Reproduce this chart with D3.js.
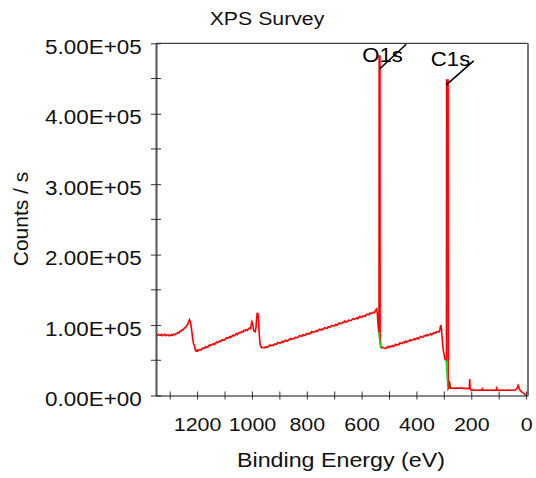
<!DOCTYPE html>
<html>
<head>
<meta charset="utf-8">
<script src="https://cdn.jsdelivr.net/npm/d3@7"></script>
<style>
  html, body { margin: 0; padding: 0; background: #fff; }
  svg { display: block; font-family: "Liberation Sans", Arial, sans-serif; }
</style>
</head>
<body>
<svg id="chart" width="536" height="478"></svg>
<script>
// XPS survey spectrum: binding energy (eV) and intensity (thousand counts / s)
const bindingEnergy = [
  1350,1346,1342,1338,1334,1330,1326,1322,1318,1314,1310,1306,1302,1298,1294,1290,1286,1282,1278,1274,
  1270,1266,1262,1258,1254,1250,1246,1242,1238,1234,1231,1228,1225,1222,1219,1216,1213,1210,1207,1204,1201,
  1197,1193,1189,1185,1181,1177,1173,1169,1165,1161,1157,1153,1149,1145,1141,1137,1133,1129,1125,1121,
  1117,1113,1109,1105,1101,1097,1093,1089,1085,1081,1077,1073,1069,1065,1061,1057,1053,1049,1045,1041,
  1037,1033,1029,1025,1021,1017,1013,1009,1005,1002,1000,997,994,991,988,985,983,981,978,976,974,972,970,967,964,961,
  958,954,950,946,942,938,934,930,926,922,918,914,910,906,902,898,894,890,886,882,878,874,870,866,862,858,854,850,
  846,842,838,834,830,826,822,818,814,810,806,802,798,794,790,786,782,778,774,770,766,762,758,754,750,
  746,742,738,734,730,726,722,718,714,710,706,702,698,694,690,686,682,678,674,670,666,662,658,654,650,
  646,642,638,634,630,626,622,618,614,610,606,602,598,594,590,586,582,578,574,570,566,
  562,558,554,551,548,545,543,541,539,537.5,536.5,536,533,532.5,531,530,527,524,520,
  516,512,508,504,500,496,492,488,484,480,476,472,468,464,460,456,452,448,444,440,436,432,428,424,420,
  416,412,408,404,400,396,392,388,384,380,376,372,368,364,360,356,352,348,344,340,336,332,328,324,320,
  317,315,313,311,309,307,305,303,301,299,297,295,292.5,290.5,290,284.5,284,282.5,281,279.5,278,276.5,
  274,270,266,262,258,254,250,246,242,238,236,230,226,222,218,214,210,207,205.5,204,202,198,190,180,170,
  162,159,157,150,140,130,120,110,107,105,95,85,75,65,55,45,38,34,31,29,27,25,23,20,16,12,8,4,1,-2
];
const countsK = [
  86.4,85.1,86.9,85.6,85.3,86.8,85.0,86.3,87.0,84.9,85.7,86.4,84.6,85.2,86.5,85.4,86.9,86.3,87.5,88.1,
  89.6,88.8,91.4,91.2,93.6,93.5,96.2,96.6,99.5,101.3,104.5,107.5,105.0,99.0,90.0,80.0,73.5,71.0,65.0,63.2,64.5,
  63.3,65.0,65.1,64.6,67.2,67.3,67.0,69.5,68.7,68.7,70.8,72.0,71.1,72.2,73.7,72.4,74.6,75.9,74.8,76.4,
  77.5,76.7,79.2,78.5,78.4,80.6,82.1,81.0,82.2,83.7,82.5,84.3,85.9,84.8,85.9,88.0,86.5,88.4,89.5,89.0,
  90.8,90.1,92.5,91.8,93.6,92.4,94.4,95.9,95.0,101.5,104.8,102.0,93.0,91.0,90.5,97.0,110.0,116.5,116.0,104.0,92.0,80.0,72.0,69.0,67.8,68.4,
  67.8,67.6,69.4,68.8,68.7,70.5,71.7,70.7,71.5,70.9,73.0,73.1,72.9,75.3,74.8,74.2,75.2,76.8,75.5,77.2,78.5,77.5,77.2,79.5,79.5,81.2,79.8,80.9,
  80.9,82.7,82.5,81.8,83.8,85.2,84.2,84.3,86.3,85.9,85.1,87.4,88.3,87.4,88.5,87.9,90.7,90.1,89.7,90.7,92.1,90.8,92.7,94.0,93.0,
  94.4,93.4,95.0,96.4,95.4,95.1,97.5,97.4,97.2,99.5,99.0,98.4,99.6,101.1,99.6,101.6,102.9,101.9,102.0,103.8,103.7,105.6,103.8,105.4,105.2,
  107.1,106.4,106.2,108.2,109.4,108.1,109.2,110.4,108.9,110.9,112.4,111.2,111.3,113.2,113.2,112.6,115.2,115.0,114.6,117.1,116.3,
  116.8,118.2,117.6,119.5,121.5,123.0,118.0,106.0,96.0,91.0,90.0,482.0,482.0,88.0,75.0,68.5,67.8,68.6,67.4,
  67.2,66.6,68.6,68.0,69.9,68.4,69.6,70.8,69.5,71.4,72.6,71.5,72.7,72.1,74.8,74.1,73.8,75.7,75.1,77.0,75.4,77.3,77.3,79.0,77.6,
  79.4,78.9,80.8,79.3,80.9,82.0,80.5,82.6,83.9,82.8,82.9,85.0,84.5,86.2,84.7,86.3,86.3,87.9,86.3,88.3,89.1,88.3,90.5,89.6,90.8,
  90.6,93.0,97.0,100.0,95.0,86.0,76.0,68.0,62.0,58.0,53.0,51.0,50.5,50.0,448.0,448.0,10.0,11.0,17.0,19.0,18.0,11.0,
  10.2,10.6,10.0,10.4,10.1,10.8,10.2,10.5,10.0,11.0,10.3,10.1,10.4,10.0,10.2,9.8,10.0,10.2,23.4,10.0,8.0,7.6,7.8,7.5,7.7,
  7.6,9.5,7.6,7.5,7.7,7.5,7.6,7.5,10.5,7.6,7.5,7.7,7.5,7.6,7.5,7.6,8.0,10.0,12.0,14.5,13.0,9.0,8.0,6.5,5.2,4.0,3.0,1.5,0.2,0.0
];

// Background regions fitted under the two main peaks
const o1sRegionE = [537.5, 530.5];
const o1sRegionK = [89.5, 68.0];
const c1sRegionE = [291.5, 285.5];
const c1sRegionK = [51.0, 12.0];

// Peak labels
const peakNames = ["O1s", "C1s"];
const peakEnergy = [534.5, 287.2];
const peakCountsK = [482.0, 448.0];

// Axis ticks
const yTickValues = [0, 100000, 200000, 300000, 400000, 500000];
const yMinorTicks = [50000, 150000, 250000, 350000, 450000];
const xTickLabels = [1200, 1000, 800, 600, 400, 200, 0];
const xTickAll = [1300, 1200, 1100, 1000, 900, 800, 700, 600, 500, 400, 300, 200, 100, 0];

const svg = d3.select("#chart");
const plotLeft = 156, plotRight = 528, plotTop = 43.3, plotBottom = 395.5;

const x = d3.scaleLinear().domain([1350, -7]).range([plotLeft, plotRight]);
const y = d3.scaleLinear().domain([0, 500000]).range([plotBottom, plotTop]);

const spectrum = bindingEnergy.map((e, i) => [e, countsK[i] * 1000]);

// Horizontally widen a text element about its anchor point
function widen(sel, sx) {
  sel.each(function () {
    const t = d3.select(this);
    const tx = +t.attr("x") || 0, ty = +t.attr("y") || 0;
    t.attr("x", 0).attr("y", 0)
     .attr("transform", `translate(${tx},${ty}) scale(${sx},1)`);
  });
}

function sci(d) {
  const s = d3.format(".2e")(d).replace("e", "E");
  return s.replace(/E([+-])(\d)$/, (m, sign, dig) => "E" + sign + "0" + dig);
}

// Title
svg.append("text")
  .attr("x", 267).attr("y", 25)
  .attr("text-anchor", "middle")
  .attr("font-size", 18.5)
  .attr("fill", "#111")
  .text("XPS Survey")
  .call(widen, 1.15);

// Spectrum line
const line = d3.line().x(d => x(d[0])).y(d => y(d[1]));
svg.append("path")
  .datum(spectrum)
  .attr("fill", "none")
  .attr("stroke", "#ff0000")
  .attr("stroke-width", 1.6)
  .attr("stroke-linejoin", "miter")
  .attr("d", line);

// Background regions
[[o1sRegionE, o1sRegionK], [c1sRegionE, c1sRegionK]].forEach(([es, ks]) => {
  svg.append("path")
    .datum(es.map((e, i) => [e, ks[i] * 1000]))
    .attr("fill", "none")
    .attr("stroke", "#00e000")
    .attr("stroke-width", 1.5)
    .attr("d", line);
});

// Frame
svg.append("line").attr("x1", plotLeft).attr("x2", plotRight).attr("y1", plotTop).attr("y2", plotTop)
  .attr("stroke", "#111").attr("stroke-width", 1);
svg.append("line").attr("x1", plotRight).attr("x2", plotRight).attr("y1", plotTop).attr("y2", plotBottom)
  .attr("stroke", "#777").attr("stroke-width", 2);

// Y axis
const yAxis = svg.append("g").attr("transform", `translate(${plotLeft},0)`)
  .call(d3.axisLeft(y).tickValues(yTickValues).tickFormat(sci)
    .tickSizeInner(5).tickSizeOuter(0).tickPadding(9.3));
yAxis.select(".domain").attr("stroke", "#555").attr("stroke-width", 2);
yAxis.selectAll(".tick line").attr("x2", -5).attr("x1", 5).attr("stroke", "#333");
yAxis.selectAll(".tick text")
  .attr("font-size", 19.5).attr("fill", "#111")
  .attr("font-family", "Liberation Sans, Arial, sans-serif")
  .attr("dy", null).attr("y", 10)
  .call(widen, 1.15);
svg.append("g").selectAll("line").data(yMinorTicks).join("line")
  .attr("x1", plotLeft - 5).attr("x2", plotLeft + 5)
  .attr("y1", d => y(d)).attr("y2", d => y(d))
  .attr("stroke", "#333");

// X axis
const xAxis = svg.append("g").attr("transform", `translate(0,${plotBottom})`)
  .call(d3.axisBottom(x).tickValues(xTickAll)
    .tickFormat(d => xTickLabels.includes(d) ? d : "")
    .tickSizeInner(4).tickSizeOuter(0));
xAxis.select(".domain").attr("stroke", "#111").attr("stroke-width", 1.2);
xAxis.selectAll(".tick line").attr("y1", -4).attr("y2", 4).attr("stroke", "#333");
xAxis.selectAll(".tick text")
  .attr("font-size", 18.8).attr("fill", "#111")
  .attr("font-family", "Liberation Sans, Arial, sans-serif")
  .attr("dy", null).attr("y", 35.5)
  .call(widen, 1.14);

// Axis titles
svg.append("text")
  .attr("x", 341).attr("y", 467.3)
  .attr("text-anchor", "middle")
  .attr("font-size", 20.4).attr("fill", "#111")
  .text("Binding Energy (eV)")
  .call(widen, 1.14);

svg.append("text")
  .attr("transform", "translate(28.3,219) rotate(-90) scale(1.05,1)")
  .attr("text-anchor", "middle")
  .attr("font-size", 20).attr("fill", "#111")
  .text("Counts / s");

// Peak labels with leader lines
const labelOffsets = [
  { lx0: 0, ly0: 13, lx1: 26.7, ly1: -11.7, tx: -17.3, ty: 6 },
  { lx0: -1, ly0: 5, lx1: 26.3, ly1: -19, tx: -16.5, ty: -14.3 }
];
peakNames.forEach((name, i) => {
  const px = x(peakEnergy[i]), py = y(peakCountsK[i] * 1000);
  const o = labelOffsets[i];
  svg.append("line")
    .attr("x1", px + o.lx0).attr("y1", py + o.ly0)
    .attr("x2", px + o.lx1).attr("y2", py + o.ly1)
    .attr("stroke", "#000").attr("stroke-width", 1.6);
  svg.append("text")
    .attr("x", px + o.tx).attr("y", py + o.ty)
    .attr("font-size", 20.5).attr("fill", "#000")
    .text(name)
    .call(widen, 1.08);
});
</script>
</body>
</html>
